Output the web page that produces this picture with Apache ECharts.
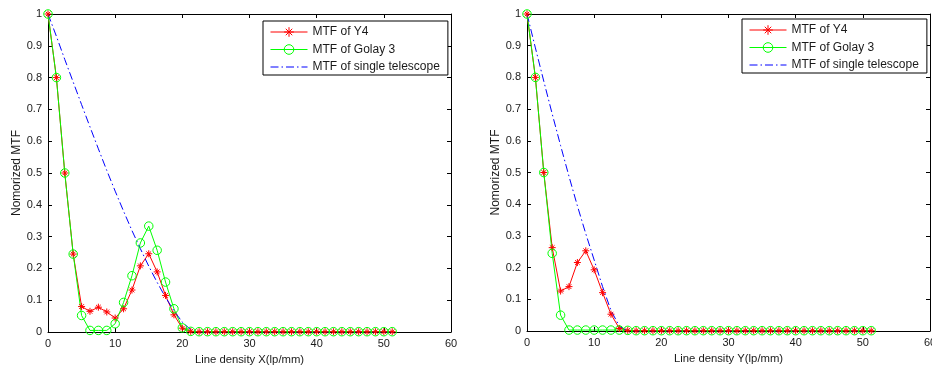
<!DOCTYPE html>
<html><head><meta charset="utf-8">
<script src="https://cdn.jsdelivr.net/npm/echarts@6/dist/echarts.min.js"></script>
<style>html,body{margin:0;padding:0;background:#fff}#c{width:932px;height:366px}</style>
</head><body><div id="c"></div>
<script>
const xValues = [0,1.25,2.5,3.75,5,6.25,7.5,8.75,10,11.25,12.5,13.75,15,16.25,17.5,18.75,20,21.25,22.5,23.75,25,26.25,27.5,28.75,30,31.25,32.5,33.75,35,36.25,37.5,38.75,40,41.25,42.5,43.75,45,46.25,47.5,48.75,50,51.25];

const leftY4 = [1,0.8,0.5,0.245,0.08,0.065,0.078,0.063,0.044,0.073,0.132,0.208,0.246,0.189,0.115,0.054,0.012,0.002,
  0.001,0.001,0.001,0.001,0.001,0.001,0.001,0.001,0.001,0.001,0.001,0.001,0.001,0.001,0.001,0.001,0.001,0.001,0.001,0.001,0.001,0.001,0.001,0.001];
const leftGolay3 = [1,0.8,0.5,0.245,0.052,0.005,0.005,0.005,0.026,0.093,0.177,0.28,0.333,0.257,0.157,0.073,0.013,0.002,
  0.001,0.001,0.001,0.001,0.001,0.001,0.001,0.001,0.001,0.001,0.001,0.001,0.001,0.001,0.001,0.001,0.001,0.001,0.001,0.001,0.001,0.001,0.001,0.001];
const leftSingle = [1,0.93,0.857,0.786,0.715,0.645,0.576,0.508,0.443,0.38,0.319,0.262,0.207,0.156,0.109,0.067,0.031,0.007,
  0,0,0,0,0,0,0,0,0,0,0,0,0,0,0,0,0,0,0,0,0,0,0,0];

const rightY4 = [1,0.8,0.5,0.263,0.126,0.14,0.216,0.253,0.193,0.121,0.053,0.008,0.002,
  0.001,0.001,0.001,0.001,0.001,0.001,0.001,0.001,0.001,0.001,0.001,0.001,0.001,0.001,0.001,0.001,0.001,0.001,0.001,0.001,0.001,0.001,0.001,0.001,0.001,0.001,0.001,0.001,0.001];
const rightGolay3 = [1,0.8,0.5,0.245,0.05,0.003,0.003,0.003,0.003,0.003,0.003,0.003,0.002,
  0.001,0.001,0.001,0.001,0.001,0.001,0.001,0.001,0.001,0.001,0.001,0.001,0.001,0.001,0.001,0.001,0.001,0.001,0.001,0.001,0.001,0.001,0.001,0.001,0.001,0.001,0.001,0.001,0.001];
const rightSingle = [1,0.893,0.788,0.685,0.585,0.488,0.395,0.307,0.224,0.14,0.065,0.015,0,
  0,0,0,0,0,0,0,0,0,0,0,0,0,0,0,0,0,0,0,0,0,0,0,0,0,0,0,0,0];

const seriesNames = ['MTF of Y4','MTF of Golay 3','MTF of single telescope'];
const xAxisNames = ['Line density X(lp/mm)','Line density Y(lp/mm)'];
const yAxisName = 'Nomorized MTF';

const FONT = "'Liberation Sans', Arial, sans-serif";
const pairs = ys => xValues.map((x,i)=>[x, ys[i]]);
const STAR = 'path://M4,0L4,8M0,4L8,4M1.3,1.3L6.7,6.7M1.3,6.7L6.7,1.3';
const DASHDOT = [8,3,1.5,3];

function axesFor(g, name){
  const base = {gridIndex:g, type:'value', min:0, max:60, interval:10, splitLine:{show:false},
    axisLine:{onZero:false,lineStyle:{color:'#000',width:1}}, axisTick:{inside:true,length:4,lineStyle:{color:'#000'}}};
  return [
    Object.assign({}, base, {position:'bottom', name:name, nameLocation:'middle', nameGap:21,
      nameTextStyle:{fontFamily:FONT,fontSize:11.3,color:'#1a1a1a'},
      axisLabel:{fontFamily:FONT,fontSize:11,color:'#1a1a1a',margin:6}}),
    Object.assign({}, base, {position:'top', axisLabel:{show:false}})
  ];
}
function yAxesFor(g){
  const base = {gridIndex:g, type:'value', min:0, max:1, interval:0.1, splitLine:{show:false},
    axisLine:{show:true,onZero:false,lineStyle:{color:'#000',width:1}}, axisTick:{show:true,inside:true,length:4,lineStyle:{color:'#000'}}};
  return [
    Object.assign({}, base, {position:'left', name:yAxisName, nameLocation:'middle', nameGap:21,
      nameTextStyle:{fontFamily:FONT,fontSize:12,color:'#1a1a1a'},
      axisLabel:{fontFamily:FONT,fontSize:11,color:'#1a1a1a',margin:6}}),
    Object.assign({}, base, {position:'right', axisLabel:{show:false}})
  ];
}
function seriesFor(g, y4, golay, single){
  return [
    {name:seriesNames[0], type:'line', xAxisIndex:2*g, yAxisIndex:2*g, data:pairs(y4),
      symbol:STAR, symbolSize:7, showAllSymbol:true,
      itemStyle:{color:'rgba(0,0,0,0)',borderColor:'#ff0000',borderWidth:1},
      lineStyle:{color:'#ff0000',width:1}},
    {name:seriesNames[1], type:'line', xAxisIndex:2*g, yAxisIndex:2*g, data:pairs(golay),
      symbol:'circle', symbolSize:8.5, showAllSymbol:true,
      itemStyle:{color:'rgba(0,0,0,0)',borderColor:'#00ff00',borderWidth:1},
      lineStyle:{color:'#00ff00',width:1}},
    {name:seriesNames[2], type:'line', xAxisIndex:2*g, yAxisIndex:2*g, data:pairs(single),
      symbol:'none', itemStyle:{color:'#0000ff'},
      lineStyle:{color:'#0000ff',width:1,type:DASHDOT}}
  ];
}
function legendAt(left, top){
  return {orient:'vertical', left:left, top:top, padding:[5,8,2,7], itemWidth:37, itemHeight:12, itemGap:5.5,
    borderColor:'#000', borderWidth:1, backgroundColor:'#fff', borderRadius:0,
    lineStyle:{width:1},
    textStyle:{fontFamily:FONT,fontSize:12,color:'#1a1a1a'},
    data:[
      {name:seriesNames[0], itemStyle:{borderWidth:1}},
      {name:seriesNames[1], itemStyle:{borderWidth:1}},
      {name:seriesNames[2], itemStyle:{opacity:0}, lineStyle:{width:1,type:DASHDOT,color:'#0000ff',opacity:1}}
    ], selectedMode:false};
}

const chart = echarts.init(document.getElementById('c'), null, {renderer:'canvas'});
chart.setOption({
  animation:false,
  backgroundColor:'#fff',
  grid:[{left:48,top:14,width:403,height:318,outerBoundsMode:'none',containLabel:false},
        {left:527,top:14,width:403,height:317,outerBoundsMode:'none',containLabel:false}],
  xAxis:[...axesFor(0,xAxisNames[0]), ...axesFor(1,xAxisNames[1])],
  yAxis:[...yAxesFor(0), ...yAxesFor(1)],
  legend:[legendAt(263,21), legendAt(742,19)],
  series:[...seriesFor(0,leftY4,leftGolay3,leftSingle), ...seriesFor(1,rightY4,rightGolay3,rightSingle)]
});
</script></body></html>
